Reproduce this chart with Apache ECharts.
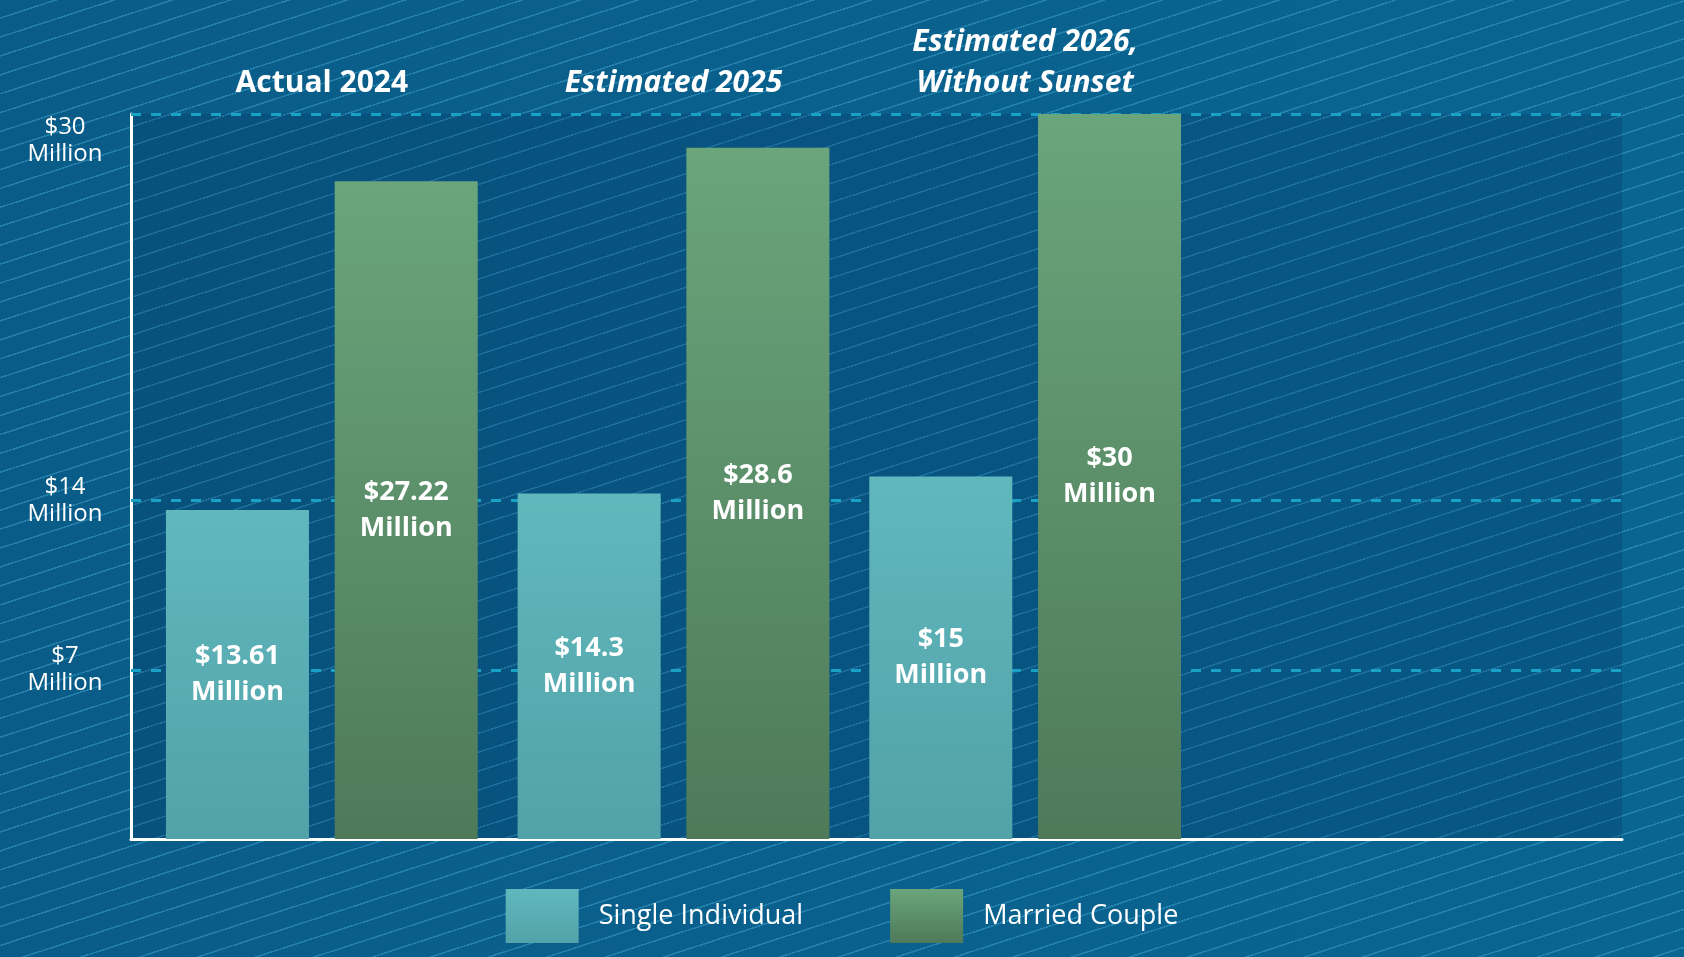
<!DOCTYPE html>
<html lang="en">
<head>
  <meta charset="UTF-8" />
  <title>Estate Tax Exemption</title>
  <script src="https://cdn.jsdelivr.net/npm/echarts@6.0.0/dist/echarts.min.js"></script>
  <style>
    body {
      margin: 0;
      overflow: hidden;
      background:
        repeating-linear-gradient(162deg,
          rgba(70, 175, 215, 0) 0px,
          rgba(70, 175, 215, 0) 16.5px,
          rgba(70, 175, 215, 0.42) 16.5px,
          rgba(70, 175, 215, 0.42) 18px),
        linear-gradient(90deg, #0a5c88, #0a6592);
    }
    #main {
      width: 1684px;
      height: 957px;
    }
  </style>
</head>
<body>
  <div id="main"></div>
  <script>
    const groups = ['Actual 2024', 'Estimated 2025', 'Estimated 2026,\nWithout Sunset'];
    const seriesNames = ['Single Individual', 'Married Couple'];
    const singleValues = [13.61, 14.3, 15];
    const marriedValues = [27.22, 28.6, 30];
    const tickValues = [7, 14, 30];

    const FONT = '"Open Sans", "Noto Sans", sans-serif';
    const chart = echarts.init(document.getElementById('main'));

    function grad(top, bottom) {
      return new echarts.graphic.LinearGradient(0, 0, 0, 1, [
        { offset: 0, color: top },
        { offset: 1, color: bottom }
      ]);
    }

    const barLabel = {
      show: true,
      position: 'inside',
      formatter: p => '$' + p.value + '\nMillion',
      color: '#fff',
      fontFamily: FONT,
      fontWeight: 'bold',
      fontSize: 27,
      lineHeight: 36
    };

    const option = {
      backgroundColor: 'transparent',
      grid: [
        // frame: axes, gridlines and darker plot area
        { left: 131, right: 62, top: 114, bottom: 118, show: true,
          backgroundColor: 'rgba(0, 30, 70, 0.18)', borderWidth: 0 },
        // bars packed to the left part of the frame
        { left: 146, right: 483, top: 114, bottom: 118 }
      ],
      xAxis: [
        {
          gridIndex: 0, type: 'value', min: 0, max: 1,
          axisLine: { show: true, lineStyle: { color: '#fff', width: 3 } },
          axisTick: { show: false }, axisLabel: { show: false }, splitLine: { show: false }
        },
        {
          gridIndex: 1, type: 'category', position: 'top', data: groups,
          axisLine: { show: false }, axisTick: { show: false },
          axisLabel: {
            margin: 10,
            interval: 0,
            formatter: (v, i) => v.split('\n').map(s => (i === 0 ? '{n|' : '{i|') + s + '}').join('\n'),
            rich: {
              n: { color: '#fff', fontFamily: FONT, fontWeight: 'bold', fontSize: 30, lineHeight: 41 },
              i: { color: '#fff', fontFamily: FONT, fontWeight: 'bold', fontStyle: 'italic', fontSize: 30, lineHeight: 41 }
            }
          }
        }
      ],
      yAxis: [
        {
          gridIndex: 0, type: 'value', min: 0, max: 30,
          axisLine: { show: true, lineStyle: { color: '#fff', width: 3 } },
          axisTick: { show: false },
          splitLine: { show: false },
          axisLabel: {
            customValues: tickValues,
            formatter: v => '$' + v + '\nMillion',
            color: '#fff',
            fontFamily: FONT,
            fontSize: 24,
            lineHeight: 27,
            align: 'center',
            verticalAlignMaxLabel: 'top',
            margin: 66,
            padding: [0, 0, 16, 0]
          }
        },
        { gridIndex: 1, type: 'value', min: 0, max: 30, show: false }
      ],
      legend: {
        data: seriesNames,
        left: 'center',
        top: 884,
        icon: 'rect',
        itemWidth: 73,
        itemHeight: 54,
        itemGap: 87,
        textStyle: { color: '#fff', fontFamily: FONT, fontSize: 27, padding: [0, 0, 0, 15] }
      },
      series: [
        {
          name: 'grid',
          type: 'line',
          xAxisIndex: 0,
          yAxisIndex: 0,
          data: [],
          z: 1,
          markLine: {
            silent: true,
            z: 1,
            symbol: 'none',
            label: { show: false },
            lineStyle: { color: '#1aa2c6', type: [10, 10], width: 3 },
            data: tickValues.map(v => ({ yAxis: v }))
          }
        },
        {
          name: seriesNames[0],
          type: 'bar',
          xAxisIndex: 1,
          yAxisIndex: 1,
          data: singleValues,
          barWidth: 143,
          barGap: '18%',
          z: 6,
          itemStyle: { color: grad('#60b8bd', '#52a2a9') },
          label: barLabel
        },
        {
          name: seriesNames[1],
          type: 'bar',
          xAxisIndex: 1,
          yAxisIndex: 1,
          data: marriedValues,
          barWidth: 143,
          barGap: '18%',
          z: 6,
          itemStyle: { color: grad('#6aa57b', '#4e7a5a') },
          label: barLabel
        }
      ]
    };

    chart.setOption(option);
    window.addEventListener('resize', () => chart.resize());
  </script>
</body>
</html>
